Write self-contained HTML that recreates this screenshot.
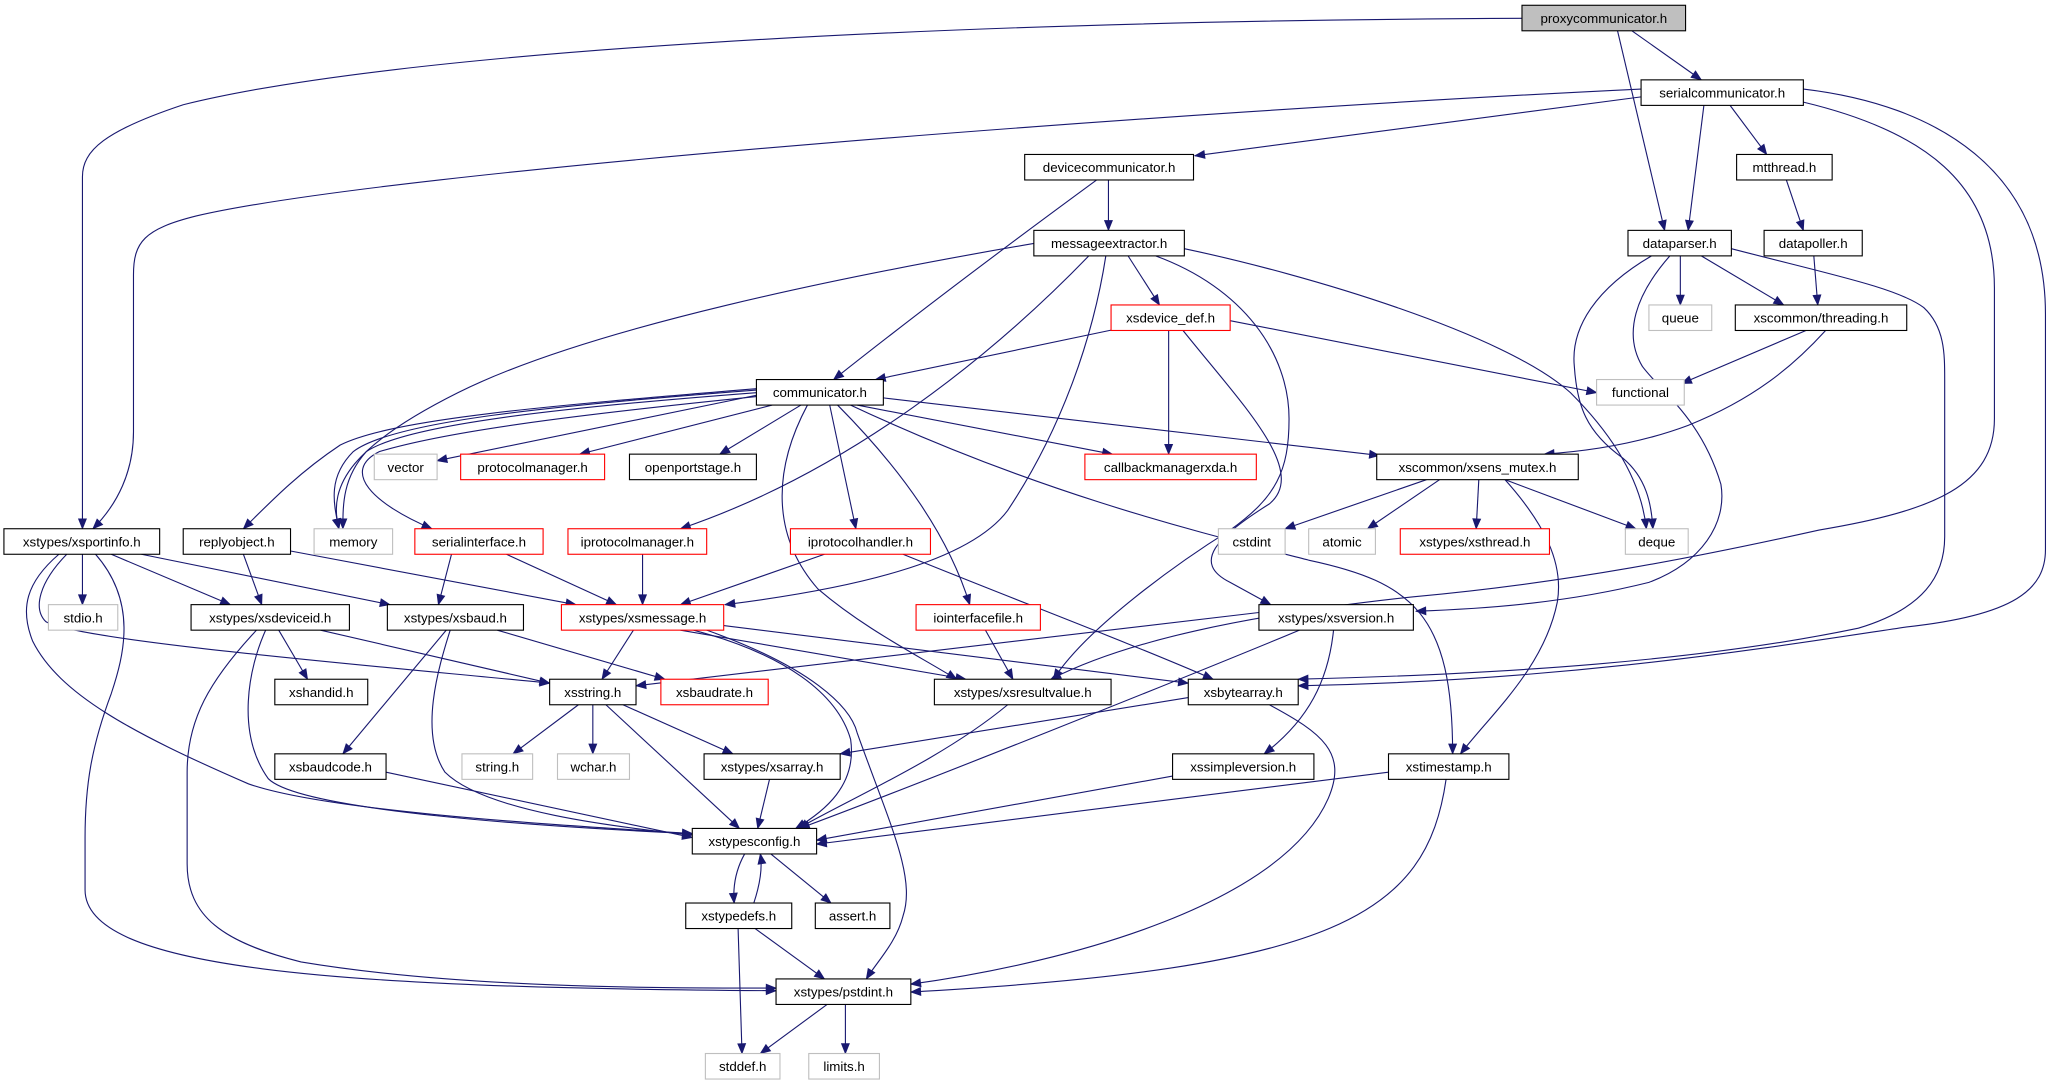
<!DOCTYPE html>
<html><head><meta charset="utf-8"><style>
html,body{margin:0;padding:0;background:#fff;}
svg{display:block;}
text{font-family:"Liberation Sans",sans-serif;font-size:10.2px;fill:#000;text-anchor:middle;}
.e{fill:none;stroke:#191970;stroke-width:0.85;marker-end:url(#a);}
.b{fill:#fff;stroke:#000;stroke-width:0.85;}
.r{fill:#fff;stroke:#ff0000;stroke-width:0.85;}
.g{fill:#fff;stroke:#bfbfbf;stroke-width:0.85;}
</style></head><body>
<svg width="2052" height="1083" viewBox="0 0 1568 827.5" xmlns="http://www.w3.org/2000/svg">
<defs><marker id="a" viewBox="-8 -4 9 8" refX="0" refY="0" markerUnits="userSpaceOnUse" markerWidth="9" markerHeight="8" orient="auto"><path d="M0,0 L-7.5,-3 L-7.5,3 z" fill="#191970" stroke="#191970" stroke-width="0.6"/></marker></defs>
<g>
<path class="e" d="M1163,14 C700,16 300,40 140,80 C80,100 63,115 63,135 L63,404"/>
<path class="e" d="M1236,23.5 L1272,176"/>
<path class="e" d="M1247,23.5 L1300,61"/>
<path class="e" d="M1254,74 L913,119"/>
<path class="e" d="M1254,68 C900,85 300,130 150,165 C110,175 102,185 102,210 L102,330 C102,360 90,385 71,404"/>
<path class="e" d="M1302,80.5 L1290,176"/>
<path class="e" d="M1322,80.5 L1350,118"/>
<path class="e" d="M1378,78 C1470,100 1524,140 1524,220 L1524,320 C1524,370 1480,390 1390,405 C1300,425 1200,445 1080,456 C950,470 860,490 803,519"/>
<path class="e" d="M1378,68 C1480,80 1563,130 1563,240 L1563,420 C1563,450 1540,470 1457,479 C1350,495 1200,520 992,524"/>
<path class="e" d="M1323,190 C1400,210 1450,220 1470,235 C1486,250 1486,270 1486,290 L1486,410 C1486,440 1470,465 1420,480 C1300,505 1150,515 992,519"/>
<path class="e" d="M1365,137.5 L1378,176"/>
<path class="e" d="M1386,195.5 L1389,233"/>
<path class="e" d="M1284,195.5 L1284,233"/>
<path class="e" d="M1300,195.5 L1363,233"/>
<path class="e" d="M1262,195.5 C1220,220 1200,250 1203,280 C1205,310 1212,330 1240,350 C1258,365 1262,385 1263,404"/>
<path class="e" d="M1276,195.5 C1250,225 1240,255 1255,280 C1270,300 1300,320 1315,370 C1320,400 1300,430 1260,445 C1200,460 1140,465 1082,467"/>
<path class="e" d="M1380,252.5 L1285,293"/>
<path class="e" d="M1395,252.5 C1370,280 1340,305 1290,325 C1250,340 1210,345 1180,347"/>
<path class="e" d="M790,186 C650,210 450,250 350,300 C270,340 250,370 259,404"/>
<path class="e" d="M832,195.5 C760,270 650,360 520,404"/>
<path class="e" d="M845,195.5 C835,260 810,330 770,390 C740,430 650,450 554,462"/>
<path class="e" d="M862,195.5 L886,233"/>
<path class="e" d="M883,195.5 C950,220 985,270 985,320 C985,360 975,380 940,405 C900,430 830,480 805,519"/>
<path class="e" d="M905,190 C1000,210 1150,255 1200,300 C1240,340 1255,375 1258,404"/>
<path class="e" d="M847,137.5 L847,176"/>
<path class="e" d="M838,137.5 C780,180 700,240 637,290"/>
<path class="e" d="M855,251 L669,290"/>
<path class="e" d="M893,252.5 L893,347"/>
<path class="e" d="M940,245 L1220,300"/>
<path class="e" d="M904,252.5 C950,310 1000,360 970,385 C930,410 910,430 940,445 L971,462"/>
<path class="e" d="M578,302 L334,352"/>
<path class="e" d="M590,309.5 L443,347"/>
<path class="e" d="M612,309.5 L550,347"/>
<path class="e" d="M578,297 C420,310 300,320 260,340 C230,360 210,380 186,404"/>
<path class="e" d="M578,298 C420,310 300,322 270,345 C250,365 255,385 259,404"/>
<path class="e" d="M578,300 C420,312 310,325 280,345 C262,365 262,385 262,404"/>
<path class="e" d="M578,303 C430,318 340,330 290,345 C260,360 285,385 330,404"/>
<path class="e" d="M655,309.5 L850,347"/>
<path class="e" d="M675,304 L1054,348"/>
<path class="e" d="M634,309.5 L654,404"/>
<path class="e" d="M640,309.5 C690,360 725,410 741,462"/>
<path class="e" d="M617,309.5 C590,360 590,410 625,450 C660,480 700,500 731,519"/>
<path class="e" d="M650,309.5 C800,380 930,410 1000,428 C1080,445 1110,470 1110,576"/>
<path class="e" d="M1090,366.5 L982,404"/>
<path class="e" d="M1100,366.5 L1045,404"/>
<path class="e" d="M1130,366.5 L1128,404"/>
<path class="e" d="M1150,366.5 L1250,404"/>
<path class="e" d="M1150,366.5 C1180,400 1195,430 1190,460 C1180,510 1140,545 1116,576"/>
<path class="e" d="M63,423.5 L63,462"/>
<path class="e" d="M85,423.5 L176,462"/>
<path class="e" d="M108,423.5 L298,462"/>
<path class="e" d="M51,423.5 C30,445 25,465 35,475 C60,490 300,510 420,522"/>
<path class="e" d="M45,423.5 C20,445 15,465 25,490 C45,530 100,560 190,599 C250,620 420,630 529,637"/>
<path class="e" d="M73,423.5 C105,460 95,500 85,530 C70,570 65,600 65,640 L65,680 C65,740 250,755 593,757"/>
<path class="e" d="M186,423.5 L200,462"/>
<path class="e" d="M222,421 L440,462"/>
<path class="e" d="M345,423.5 L335,462"/>
<path class="e" d="M387,423.5 L471,462"/>
<path class="e" d="M491,423.5 L491,462"/>
<path class="e" d="M630,423.5 L520,462"/>
<path class="e" d="M690,423.5 C780,460 860,490 927,519"/>
<path class="e" d="M213,481.5 L235,519"/>
<path class="e" d="M245,481.5 L420,522"/>
<path class="e" d="M203,481.5 C190,510 180,560 205,595 C230,620 420,632 529,637"/>
<path class="e" d="M196,481.5 C160,520 143,550 143,590 L143,660 C143,700 170,720 230,735 C350,755 500,755 593,755"/>
<path class="e" d="M341,481.5 L262,576"/>
<path class="e" d="M380,481.5 L508,519"/>
<path class="e" d="M344,481.5 C335,510 320,560 340,590 C370,620 470,632 529,638"/>
<path class="e" d="M484,481.5 L460,519"/>
<path class="e" d="M520,481.5 L738,519"/>
<path class="e" d="M553,478 L908,522"/>
<path class="e" d="M530,481.5 C600,500 640,530 650,565 C655,600 630,620 608,633"/>
<path class="e" d="M540,481.5 C620,510 650,540 655,560 C680,630 700,670 690,700 C685,720 670,735 662,748"/>
<path class="e" d="M753,481.5 L774,519"/>
<path class="e" d="M962,468 L486,524"/>
<path class="e" d="M993,481.5 C900,520 700,600 611,633"/>
<path class="e" d="M1019,481.5 C1015,520 1000,550 966,576"/>
<path class="e" d="M442,538.5 L392,576"/>
<path class="e" d="M453,538.5 L453,576"/>
<path class="e" d="M476,538.5 L560,576"/>
<path class="e" d="M463,538.5 L565,633"/>
<path class="e" d="M770,538.5 C720,580 650,610 610,633"/>
<path class="e" d="M908,533 L642,576"/>
<path class="e" d="M970,538.5 C1010,560 1030,575 1015,610 C980,690 820,735 696,752"/>
<path class="e" d="M295,590 L529,640"/>
<path class="e" d="M588,595.5 L579,633"/>
<path class="e" d="M896,593 L624,642"/>
<path class="e" d="M1061,590 L624,645"/>
<path class="e" d="M1105,595.5 C1090,700 1020,740 696,758"/>
<path class="e" d="M569,652.5 C562,665 560,678 561,690"/>
<path class="e" d="M576,690 C580,678 583,665 581,652.5"/>
<path class="e" d="M589,652.5 L635,690"/>
<path class="e" d="M577,709.5 L630,748"/>
<path class="e" d="M564,709.5 L567,805"/>
<path class="e" d="M632,767.5 L581,805"/>
<path class="e" d="M646,767.5 L646,805"/>
</g>
<g>
<rect x="1163" y="4" width="125" height="19.5" fill="#bfbfbf" stroke="#000" stroke-width="0.85"/><text x="1225.5" y="17.5">proxycommunicator.h</text>
<rect class="b" x="1254" y="61" width="124" height="19.5"/><text x="1316" y="74.5">serialcommunicator.h</text>
<rect class="b" x="783" y="118" width="129" height="19.5"/><text x="847.5" y="131.5">devicecommunicator.h</text>
<rect class="b" x="1327" y="118" width="73" height="19.5"/><text x="1363.5" y="131.5">mtthread.h</text>
<rect class="b" x="790" y="176" width="115" height="19.5"/><text x="847.5" y="189.5">messageextractor.h</text>
<rect class="b" x="1244" y="176" width="79" height="19.5"/><text x="1283.5" y="189.5">dataparser.h</text>
<rect class="b" x="1348" y="176" width="75" height="19.5"/><text x="1385.5" y="189.5">datapoller.h</text>
<rect class="r" x="849" y="233" width="91" height="19.5"/><text x="894.5" y="246.5">xsdevice_def.h</text>
<rect class="g" x="1260" y="233" width="48" height="19.5"/><text x="1284" y="246.5">queue</text>
<rect class="b" x="1326" y="233" width="131" height="19.5"/><text x="1391.5" y="246.5">xscommon/threading.h</text>
<rect class="b" x="578" y="290" width="97" height="19.5"/><text x="626.5" y="303.5">communicator.h</text>
<rect class="g" x="1220" y="290" width="67" height="19.5"/><text x="1253.5" y="303.5">functional</text>
<rect class="g" x="286" y="347" width="48" height="19.5"/><text x="310" y="360.5">vector</text>
<rect class="r" x="352" y="347" width="110" height="19.5"/><text x="407" y="360.5">protocolmanager.h</text>
<rect class="b" x="481" y="347" width="97" height="19.5"/><text x="529.5" y="360.5">openportstage.h</text>
<rect class="r" x="829" y="347" width="131" height="19.5"/><text x="894.5" y="360.5">callbackmanagerxda.h</text>
<rect class="b" x="1052" y="347" width="154" height="19.5"/><text x="1129" y="360.5">xscommon/xsens_mutex.h</text>
<rect class="b" x="3" y="404" width="119" height="19.5"/><text x="62.5" y="417.5">xstypes/xsportinfo.h</text>
<rect class="b" x="140" y="404" width="82" height="19.5"/><text x="181" y="417.5">replyobject.h</text>
<rect class="g" x="240" y="404" width="60" height="19.5"/><text x="270" y="417.5">memory</text>
<rect class="r" x="317" y="404" width="98" height="19.5"/><text x="366" y="417.5">serialinterface.h</text>
<rect class="r" x="434" y="404" width="106" height="19.5"/><text x="487" y="417.5">iprotocolmanager.h</text>
<rect class="r" x="604" y="404" width="107" height="19.5"/><text x="657.5" y="417.5">iprotocolhandler.h</text>
<rect class="g" x="931" y="404" width="51" height="19.5"/><text x="956.5" y="417.5">cstdint</text>
<rect class="g" x="1000" y="404" width="51" height="19.5"/><text x="1025.5" y="417.5">atomic</text>
<rect class="r" x="1070" y="404" width="114" height="19.5"/><text x="1127" y="417.5">xstypes/xsthread.h</text>
<rect class="g" x="1242" y="404" width="48" height="19.5"/><text x="1266" y="417.5">deque</text>
<rect class="g" x="37" y="462" width="53" height="19.5"/><text x="63.5" y="475.5">stdio.h</text>
<rect class="b" x="146" y="462" width="121" height="19.5"/><text x="206.5" y="475.5">xstypes/xsdeviceid.h</text>
<rect class="b" x="296" y="462" width="104" height="19.5"/><text x="348" y="475.5">xstypes/xsbaud.h</text>
<rect class="r" x="429" y="462" width="124" height="19.5"/><text x="491" y="475.5">xstypes/xsmessage.h</text>
<rect class="r" x="700" y="462" width="95" height="19.5"/><text x="747.5" y="475.5">iointerfacefile.h</text>
<rect class="b" x="962" y="462" width="118" height="19.5"/><text x="1021" y="475.5">xstypes/xsversion.h</text>
<rect class="b" x="210" y="519" width="71" height="19.5"/><text x="245.5" y="532.5">xshandid.h</text>
<rect class="b" x="420" y="519" width="66" height="19.5"/><text x="453" y="532.5">xsstring.h</text>
<rect class="r" x="505" y="519" width="82" height="19.5"/><text x="546" y="532.5">xsbaudrate.h</text>
<rect class="b" x="714" y="519" width="135" height="19.5"/><text x="781.5" y="532.5">xstypes/xsresultvalue.h</text>
<rect class="b" x="908" y="519" width="84" height="19.5"/><text x="950" y="532.5">xsbytearray.h</text>
<rect class="b" x="210" y="576" width="85" height="19.5"/><text x="252.5" y="589.5">xsbaudcode.h</text>
<rect class="g" x="353" y="576" width="54" height="19.5"/><text x="380" y="589.5">string.h</text>
<rect class="g" x="426" y="576" width="55" height="19.5"/><text x="453.5" y="589.5">wchar.h</text>
<rect class="b" x="538" y="576" width="104" height="19.5"/><text x="590" y="589.5">xstypes/xsarray.h</text>
<rect class="b" x="896" y="576" width="108" height="19.5"/><text x="950" y="589.5">xssimpleversion.h</text>
<rect class="b" x="1061" y="576" width="92" height="19.5"/><text x="1107" y="589.5">xstimestamp.h</text>
<rect class="b" x="529" y="633" width="95" height="19.5"/><text x="576.5" y="646.5">xstypesconfig.h</text>
<rect class="b" x="524" y="690" width="81" height="19.5"/><text x="564.5" y="703.5">xstypedefs.h</text>
<rect class="b" x="623" y="690" width="57" height="19.5"/><text x="651.5" y="703.5">assert.h</text>
<rect class="b" x="593" y="748" width="103" height="19.5"/><text x="644.5" y="761.5">xstypes/pstdint.h</text>
<rect class="g" x="539" y="805" width="57" height="19.5"/><text x="567.5" y="818.5">stddef.h</text>
<rect class="g" x="618" y="805" width="54" height="19.5"/><text x="645" y="818.5">limits.h</text>
</g>
</svg>
</body></html>
